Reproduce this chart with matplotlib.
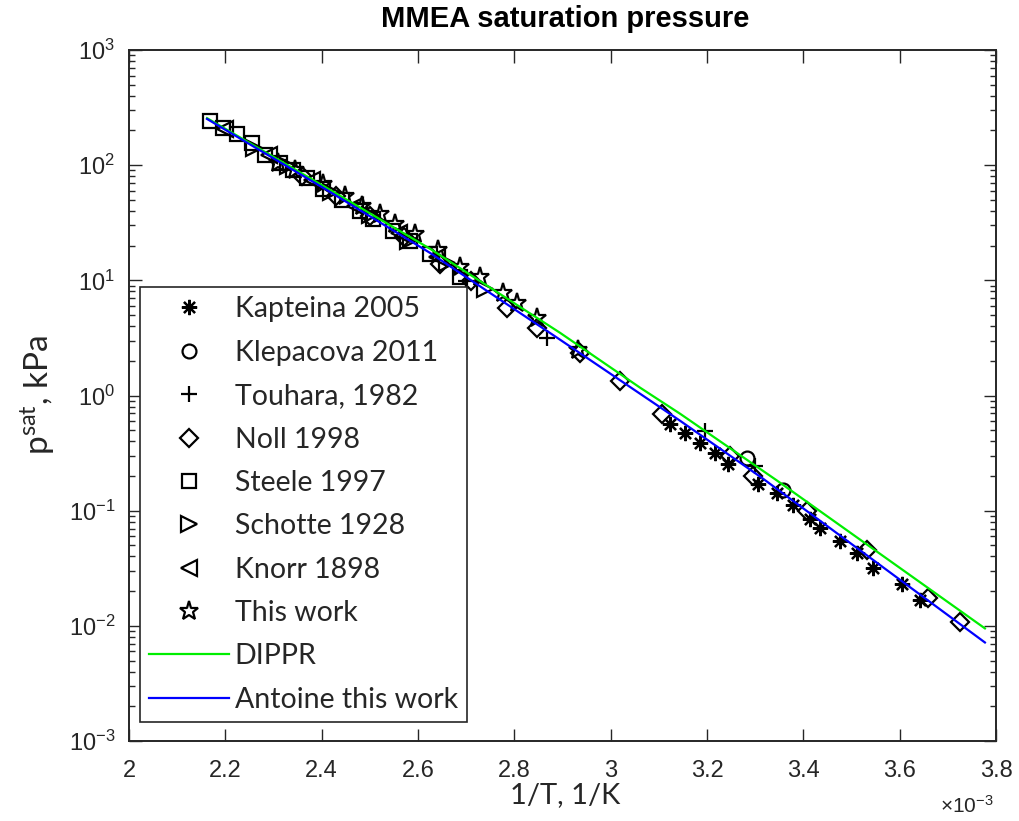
import matplotlib
matplotlib.use('Agg')
import matplotlib.pyplot as plt
from matplotlib import font_manager
from matplotlib.ticker import FixedLocator, LogLocator, FuncFormatter, NullFormatter

# ---------------- data (x in 1e-3 1/K, p in kPa) ----------------
kapteina_x = [3.123, 3.154, 3.185, 3.217, 3.244, 3.306, 3.345, 3.378, 3.414, 3.434, 3.476, 3.511, 3.545, 3.605, 3.642]
kapteina_p = [0.569, 0.475, 0.389, 0.319, 0.256, 0.172, 0.141, 0.111, 0.0854, 0.0714, 0.055, 0.0433, 0.0321, 0.0233, 0.0166]

klepacova_x = [3.283, 3.358]
klepacova_p = [0.288, 0.150]

touhara_x = [2.700, 2.868, 3.196, 3.300]
touhara_p = [9.9, 3.17, 0.495, 0.246]

noll_x = [2.36, 2.43, 2.50, 2.57, 2.646, 2.71, 2.785, 2.847, 2.936, 3.019, 3.107, 3.248, 3.295, 3.408, 3.532, 3.659, 3.725]
noll_p = [80, 54, 36, 23.7, 13.9, 9.9, 5.78, 3.87, 2.35, 1.34, 0.695, 0.300, 0.201, 0.100, 0.0451, 0.0173, 0.0107]

steele_x = [2.168, 2.195, 2.224, 2.255, 2.282, 2.313, 2.340, 2.370, 2.403, 2.442, 2.480, 2.507, 2.548, 2.583, 2.625, 2.687]
steele_p = [242, 210, 186, 156, 123, 104.5, 90, 77, 62.7, 49.5, 39.6, 34.1, 27, 22, 17, 10.6]

schotte_x = [2.26, 2.33, 2.42, 2.50, 2.58, 2.66, 2.74]
schotte_p = [141, 99, 58, 36.9, 22, 14.2, 8.4]

knorr_x = [2.20, 2.29, 2.38, 2.47, 2.56, 2.64]
knorr_p = [205, 123, 74, 44, 25.9, 16.1]

thiswork_x = [2.309, 2.345, 2.403, 2.448, 2.484, 2.521, 2.552, 2.594, 2.641, 2.687, 2.729, 2.776, 2.805, 2.847, 2.932]
thiswork_p = [104.5, 90, 68, 54, 44.6, 37.4, 30.8, 25.3, 18.2, 13, 10.6, 7.7, 6.4, 4.7, 2.48]

dippr_x = [2.162, 2.407, 2.625, 2.895, 3.061, 3.144, 3.345, 3.777]
dippr_p = [256, 64.7, 18.8, 3.50, 1.17, 0.695, 0.183, 0.0095]

antoine_x = [2.162, 2.407, 2.625, 2.895, 3.061, 3.144, 3.316, 3.777]
antoine_p = [252, 62.2, 17.3, 3.05, 1.036, 0.604, 0.190, 0.00717]

x_ticks = [2, 2.2, 2.4, 2.6, 2.8, 3, 3.2, 3.4, 3.6, 3.8]

# ---------------- fonts ----------------
names = {f.name for f in font_manager.fontManager.ttflist}
narrow = 'Liberation Sans Narrow' if 'Liberation Sans Narrow' in names else 'Liberation Sans'
humanist = 'Lato' if 'Lato' in names else 'DejaVu Sans'
dark = '#262626'

plt.rcParams['font.family'] = [narrow, 'DejaVu Sans']
plt.rcParams['mathtext.fontset'] = 'custom'
plt.rcParams['mathtext.rm'] = narrow
plt.rcParams['mathtext.it'] = narrow
plt.rcParams['mathtext.bf'] = narrow

fig = plt.figure(figsize=(10.19, 8.21), dpi=100)
W, H = 1019, 821
L, R, T, B = 129, 996, 50, 741
ax = fig.add_axes([L / W, 1 - B / H, (R - L) / W, (B - T) / H])

mk = dict(linestyle='none', markerfacecolor='none', markeredgecolor='black', markeredgewidth=1.6)
ax.plot(kapteina_x, kapteina_p, marker=(8, 2, 0), markersize=11, label='Kapteina 2005', **mk)
ax.plot(klepacova_x, klepacova_p, marker='o', markersize=10, label='Klepacova 2011', **mk)
ax.plot(touhara_x, touhara_p, marker='+', markersize=12, label='Touhara, 1982', **mk)
ax.plot(noll_x, noll_p, marker='D', markersize=9, label='Noll 1998', **mk)
ax.plot(steele_x, steele_p, marker='s', markersize=10, label='Steele 1997', **mk)
ax.plot(schotte_x, schotte_p, marker='>', markersize=11, label='Schotte 1928', **mk)
ax.plot(knorr_x, knorr_p, marker='<', markersize=11, label='Knorr 1898', **mk)
ax.plot(thiswork_x, thiswork_p, marker='*', markersize=14, label='This work', **mk)
ax.plot(dippr_x, dippr_p, color='#00ee00', linewidth=1.6, label='DIPPR')
ax.plot(antoine_x, antoine_p, color='#0000ff', linewidth=1.6, label='Antoine this work')

ax.set_yscale('log')
ax.set_xlim(2, 3.8)
ax.set_ylim(1e-3, 1e3)
ax.xaxis.set_major_locator(FixedLocator(x_ticks))
ax.xaxis.set_major_formatter(FuncFormatter(lambda v, p: '%g' % v))
ax.yaxis.set_major_locator(LogLocator(base=10, numticks=20))
ax.yaxis.set_minor_locator(LogLocator(base=10, subs=range(2, 10), numticks=100))
ax.yaxis.set_minor_formatter(NullFormatter())

ax.tick_params(which='both', direction='in', top=True, right=True, colors=dark, width=1.0)
ax.tick_params(which='major', length=9, labelsize=17, pad=10)
ax.tick_params(which='minor', length=4)
ax.tick_params(axis='x', pad=14)
for s in ax.spines.values():
    s.set_color(dark)
    s.set_linewidth(1.4)

fig.text(565 / W, 1 - 19 / H, 'MMEA saturation pressure', fontsize=21, fontweight='bold',
         color='black', ha='center', va='center')
fig.text(565 / W, 1 - 795 / H, '1/T, 1/K', fontsize=21, color=dark, ha='center', va='center',
         family=[humanist, 'DejaVu Sans'])
fig.text(38 / W, 1 - 395 / H, r'p$^{\mathregular{sat}}$, kPa', fontsize=24, color=dark, ha='center',
         va='center', rotation=90, family=[humanist, 'DejaVu Sans'])
fig.text(967 / W, 1 - 806 / H, r'$\times$10$^{\mathregular{-3}}$', fontsize=15, color=dark,
         ha='center', va='center')

leg = ax.legend(loc='upper left', bbox_to_anchor=(140 / W, 1 - 287 / H), bbox_transform=fig.transFigure,
                borderaxespad=0, frameon=True, fancybox=False, edgecolor=dark, framealpha=1,
                prop={'family': [humanist, 'DejaVu Sans'], 'size': 20.5}, labelspacing=0.61,
                handlelength=2.8, handletextpad=0.2, borderpad=0.33)
leg.get_frame().set_linewidth(1.2)
for t in leg.get_texts():
    t.set_color(dark)

fig.savefig('out.png', dpi=100)
